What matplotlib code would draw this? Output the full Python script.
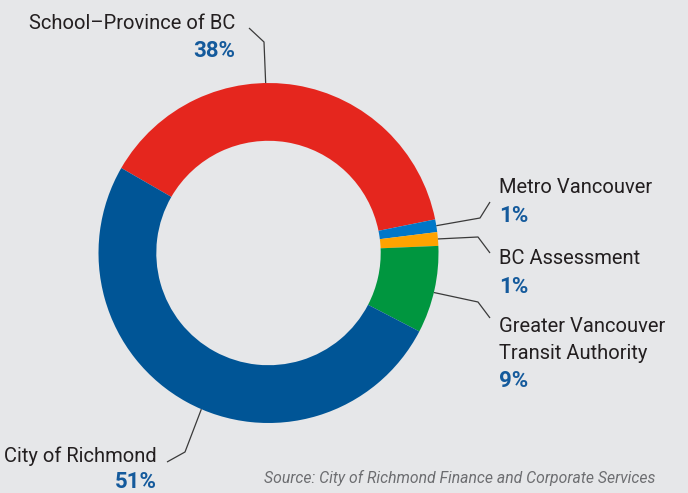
import numpy as np
import matplotlib.pyplot as plt

segments = ["School\u2013Province of BC", "Metro Vancouver", "BC Assessment",
            "Greater Vancouver\nTransit Authority", "City of Richmond"]
shares = [38.5, 1.2, 1.3, 8.3, 50.7]
pct_labels = ["38%", "1%", "1%", "9%", "51%"]
source = "Source: City of Richmond Finance and Corporate Services"

colors = ["#e5261e", "#0077c8", "#ffa300", "#00963f", "#005596"]
bg = "#e6e7e9"
pct_color = "#145a9c"
text_color = "#231f20"

plt.rcParams["font.family"] = ["Roboto", "DejaVu Sans"]

W, H = 688, 493
fig = plt.figure(figsize=(W / 100, H / 100), dpi=100)
fig.set_facecolor(bg)
ax = fig.add_axes([0, 0, 1, 1])
ax.set_facecolor(bg)

cx, cy, R = 268.5, H - 253, 170
wedges, _ = ax.pie(shares, colors=colors, startangle=150, counterclock=False,
                   center=(cx, cy), radius=R,
                   wedgeprops=dict(width=R * 0.34, linewidth=0))
ax.set_xlim(0, W)
ax.set_ylim(0, H)
ax.set_aspect("equal")
ax.axis("off")


def py(y):
    return H - y


# leader lines: anchor on the outer edge (fraction along wedge), then elbow, end (pixels)
anchor_frac = [0.574, 0.5, 0.5, 0.47, 0.53]
elbows = [[(264, 42), (249, 28)],
          [(480, 218), (490, 202)],
          [(478, 237), (490, 253)],
          [(478, 302), (490, 318)],
          [(185, 452), (167, 462)]]
for w, f, pts in zip(wedges, anchor_frac, elbows):
    ang = np.deg2rad(w.theta1 + f * (w.theta2 - w.theta1))
    ax0, ay0 = cx + R * np.cos(ang), cy + R * np.sin(ang)
    xs = [ax0] + [p[0] for p in pts]
    ys = [ay0] + [py(p[1]) for p in pts]
    ax.plot(xs, ys, color="#3a3a3a", lw=0.9, solid_capstyle="butt")

fs = 14.5
# name positions (x, baseline y, ha) and percent positions
name_pos = [(235, 29, "right"), (499, 193, "left"), (499, 264, "left"),
            (499, 359, "left"), (157, 462, "right")]
pct_pos = [(235, 57, "right"), (499, 222, "left"), (499, 293, "left"),
           (499, 387, "left"), (157, 488, "right")]
for name, pct, (nx, ny, nha), (qx, qy, qha) in zip(segments, pct_labels, name_pos, pct_pos):
    ax.text(nx, py(ny), name, ha=nha, va="baseline", fontsize=fs,
            color=text_color, linespacing=1.5)
    ax.text(qx, py(qy), pct, ha=qha, va="baseline", fontsize=16,
            fontweight="bold", color=pct_color)

ax.text(655, py(483), source, ha="right", va="baseline", fontsize=11.3,
        style="italic", color="#6d6e71")

fig.savefig("out.png", dpi=100, facecolor=bg)
